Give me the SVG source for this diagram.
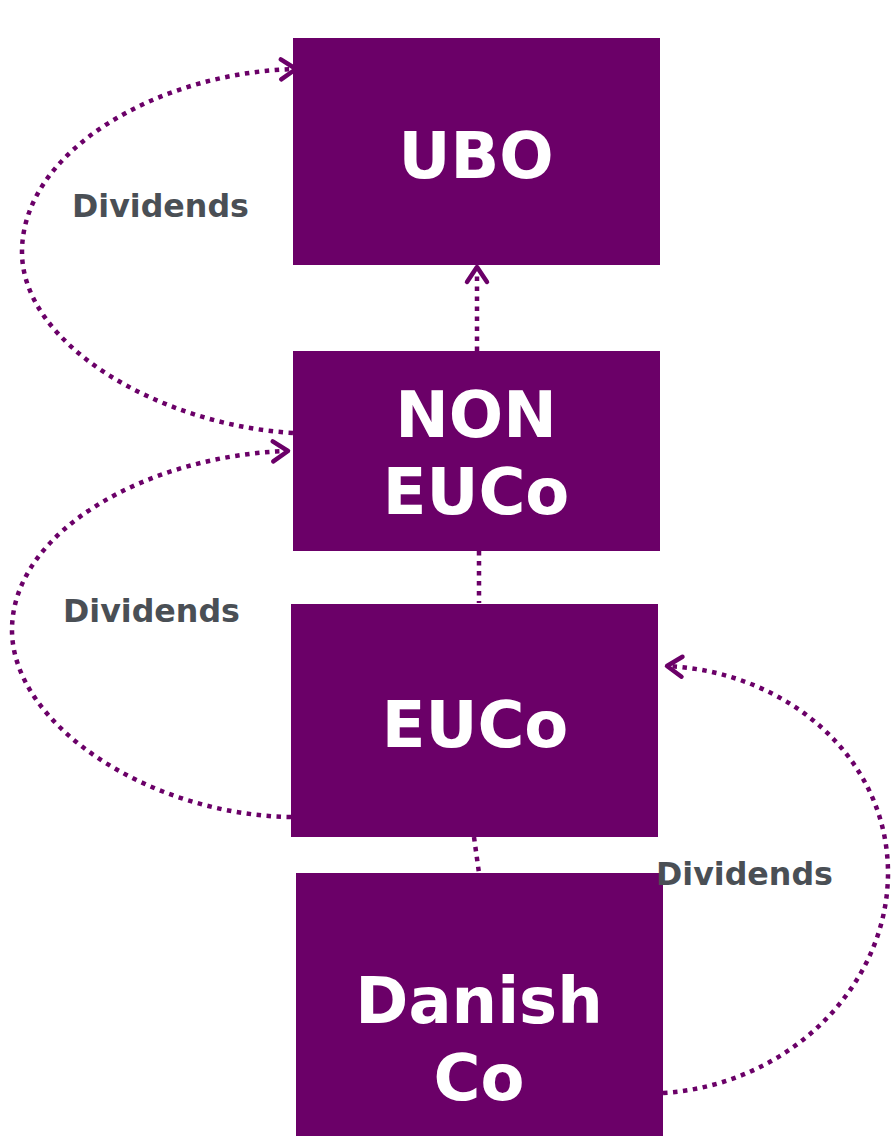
<svg xmlns="http://www.w3.org/2000/svg" width="894" height="1136" viewBox="0 0 894 1136">
<style>
.box{fill:#6B0068}
.nt{fill:#ffffff;font-family:"DejaVu Sans",Verdana,sans-serif;font-weight:bold;font-size:64px;text-anchor:middle}
.lbl{fill:#4A4F55;font-family:"DejaVu Sans",Verdana,sans-serif;font-weight:bold;font-size:31.7px}
.con{fill:none;stroke:#6B0068;stroke-width:4.5;stroke-dasharray:4.5 5.5}
</style>
<defs>
<marker id="arr" markerUnits="userSpaceOnUse" markerWidth="40" markerHeight="40" viewBox="-20 -20 40 40" refX="0" refY="0" orient="auto">
<path d="M-15,-10 L0,0 L-15,10" fill="none" stroke="#6B0068" stroke-width="4.5" stroke-linecap="round" stroke-linejoin="round" stroke-dasharray="none"/>
</marker>
</defs>
<rect width="894" height="1136" fill="#ffffff"/>
<g id="connectors">
<path class="con" d="M477,351 L477,267" marker-end="url(#arr)"/>
<path class="con" d="M293,433 C160,425 22,345 22,252 C22,150 160,72 296,69" marker-end="url(#arr)"/>
<path class="con" d="M291,817 C150,815 12,725 12,630 C12,530 150,455 288,451" marker-end="url(#arr)"/>
<path class="con" d="M663,1093 C790,1085 888,985 888,873 C888,760 790,672 667,666" marker-end="url(#arr)"/>
<path class="con" d="M479,551 L479,603"/>
<path class="con" d="M474,837 L479,873"/>
</g>
<g id="ubo">
<rect class="box" x="293" y="38" width="367" height="227"/>
<text class="nt" x="476" y="178">UBO</text>
</g>
<g id="noneuco">
<rect class="box" x="293" y="351" width="367" height="200"/>
<text class="nt" x="476" y="437">NON</text>
<text class="nt" x="476" y="514">EUCo</text>
</g>
<g id="euco">
<rect class="box" x="291" y="604" width="367" height="233"/>
<text class="nt" x="475" y="747">EUCo</text>
</g>
<g id="danishco">
<rect class="box" x="296" y="873" width="367" height="263"/>
<text class="nt" x="479" y="1023">Danish</text>
<text class="nt" x="479" y="1100">Co</text>
</g>
<g id="labels">
<text class="lbl" x="72" y="217">Dividends</text>
<text class="lbl" x="63" y="622">Dividends</text>
<text class="lbl" x="656" y="885">Dividends</text>
</g>
</svg>
